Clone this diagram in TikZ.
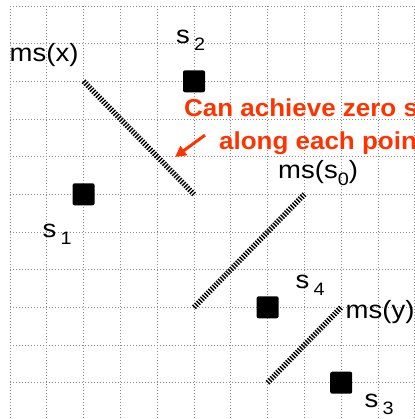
\documentclass[tikz,border=0pt]{standalone}
\usepackage{fontspec}
\setmainfont{Liberation Sans}
\newfontfamily\labelfont[FakeStretch=1.1]{Liberation Sans}
\newfontfamily\notefont[FakeStretch=1.06]{Liberation Sans}
\usetikzlibrary{arrows.meta,positioning}
\definecolor{msRed}{HTML}{FF3300}
\definecolor{msGrid}{HTML}{8C8C8C}
\tikzset{
  gridline/.style={msGrid, line width=0.7pt, dash pattern=on 0.7pt off 2.3pt},
  sample/.style={fill=black, rounded corners=2pt, minimum size=22pt, inner sep=0pt},
  mslabel/.style={font=\labelfont\fontsize{25}{30}\selectfont, inner sep=0pt, anchor=base west},
  msline/.style={line width=5.5pt, dash pattern=on 1.4pt off 1.4pt},
  note/.style={font=\notefont\bfseries\fontsize{24.5}{29}\selectfont, text=msRed, inner sep=0pt, anchor=base west},
  pointer/.style={-{Triangle[length=11pt,width=11pt]}, line width=3pt, msRed}
}
\newcommand{\idx}[1]{{\fontsize{18}{18}\selectfont\raisebox{-7pt}{#1}}}
\begin{document}
\begin{tikzpicture}[x=1pt, y=-1pt]
  \useasboundingbox (0,0) rectangle (414,419);
  % dotted grid
  \foreach \i in {0,...,11}
    \draw[gridline] ({10+36.8*\i}, 6) -- ({10+36.8*\i}, 419);
  \foreach \j in {0,...,10}
    \draw[gridline] (10, {6+37.67*\j}) -- (414, {6+37.67*\j});
  % samples
  \node[sample] (s1) at (83.6, 194.3) {};
  \node[sample] (s2) at (194, 81.3) {};
  \node[sample] (s3) at (341.2, 382.7) {};
  \node[sample] (s4) at (267.6, 307.3) {};
  \node[mslabel] (lab1) at (42.5, 237) {s\,\idx{1}};
  \node[mslabel] (lab2) at (176, 44) {s\,\idx{2}};
  \node[mslabel] (lab3) at (364.5, 407) {s\,\idx{3}};
  \node[mslabel] (lab4) at (295.5, 288) {s\,\idx{4}};
  % level sets
  \draw[msline] (83.6, 81.3) -- (194, 194.3);
  \draw[msline] (194, 307.3) -- (304.4, 194.3);
  \draw[msline] (267.6, 382.7) -- (341.2, 307.3);
  \node[mslabel] (msx) at (9.5, 61.7) {ms(x)};
  \node[mslabel] (mss) at (278, 178.3) {ms(s\idx{0})};
  \node[mslabel] (msy) at (345.5, 318) {ms(y)};
  % remark
  \node[note] (note1) at (184, 116.7) {Can achieve zero s};
  \node[note] (note2) at (219, 150) {along each poin};
  \coordinate (tip) at (175, 157);
  \draw[pointer] ([shift={(-14pt,8.6pt)}]note2.west) -- (tip);
\end{tikzpicture}
\end{document}
